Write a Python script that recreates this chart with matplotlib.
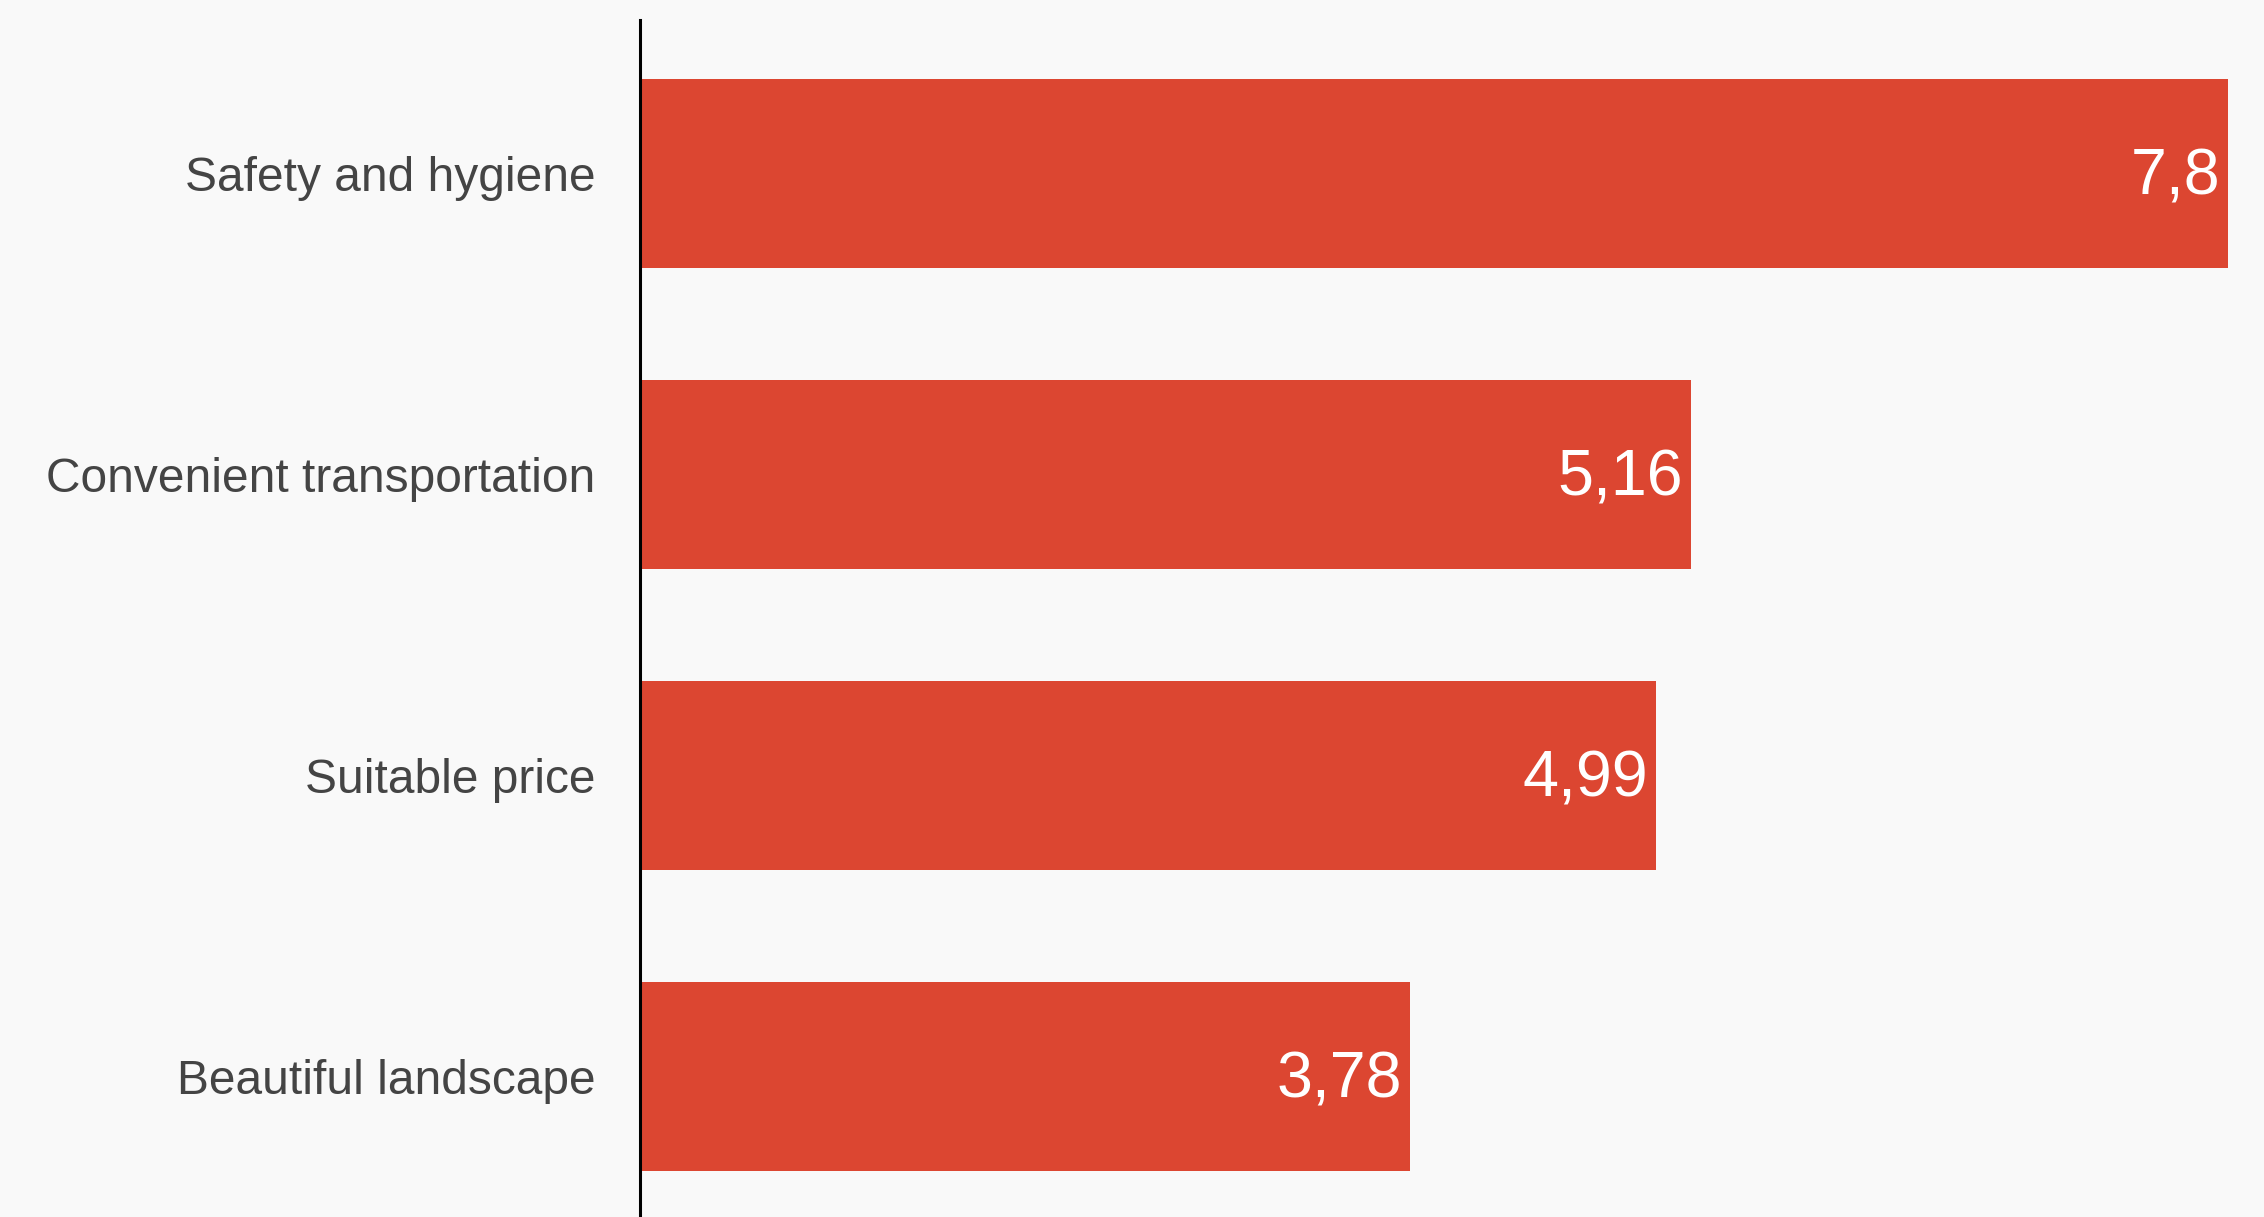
import numpy as np
import matplotlib
matplotlib.use("Agg")
import matplotlib.pyplot as plt

plt.rcParams['font.family'] = ['Liberation Sans', 'DejaVu Sans']

# data
categories = ['Safety and hygiene', 'Convenient transportation',
              'Suitable price', 'Beautiful landscape']
values = [7.8, 5.16, 4.99, 3.78]
value_labels = ['7,8', '5,16', '4,99', '3,78']

W, H = 2264, 1217
fig = plt.figure(figsize=(W / 100, H / 100), dpi=100)
fig.patch.set_facecolor('#f9f9f9')

# axes: left at x=640 px, top at y=23 px, four rows of ~301 px
ax_left = 640 / W
ax_top = 1 - 23 / H
ax_h = 4 * 301 / H
ax = fig.add_axes([ax_left, ax_top - ax_h, 1 - ax_left, ax_h])
ax.set_facecolor('none')

y = np.arange(len(categories))
ax.barh(y, values, height=0.63, color='#dc4631', zorder=2)

ax.set_ylim(3.5, -0.5)
ax.set_xlim(0, (W - 640) / 203.6)

for sp in ['top', 'right', 'bottom']:
    ax.spines[sp].set_visible(False)
ax.spines['left'].set_linewidth(2.2)
ax.spines['left'].set_color('black')
ax.spines['left'].set_zorder(3)
# axis line starts at y=20 px in the reference
ax.spines['left'].set_bounds(3.5, -0.5 - 3 / 301)

ax.set_xticks([])
ax.set_yticks(y)
ax.set_yticklabels(categories, fontsize=34.5, color='#444444')
ax.tick_params(axis='y', length=0, pad=32)

for yi, v, lab in zip(y, values, value_labels):
    ax.annotate(lab, xy=(v, yi), xytext=(-8, -4), textcoords='offset pixels',
                ha='right', va='center', fontsize=46.5, color='white', zorder=4)

fig.savefig('out.png', dpi=100, facecolor=fig.get_facecolor())
